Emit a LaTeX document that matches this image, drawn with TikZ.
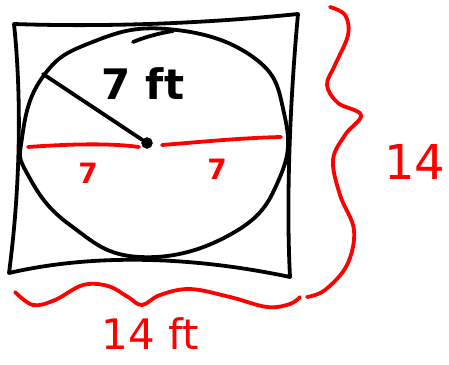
\documentclass[tikz,border=0pt]{standalone}
\usepackage{fontspec}
\setmainfont{DejaVu Sans}
\usetikzlibrary{calc}

\tikzset{
  ink/.style={black, line width=3.8pt, line cap=round, line join=round},
  redink/.style={red, line width=3.8pt, line cap=round, line join=round},
  lbl/.style={inner sep=0pt, font=\bfseries}
}

\begin{document}
\begin{tikzpicture}[x=1pt,y=-1pt]
    \useasboundingbox (0,0) rectangle (449,364);
    % square
    \draw[ink] (14,24) .. controls (100,27) and (200,24) .. (298,14)
        .. controls (290,100) and (286,200) .. (290,277)
        .. controls (200,258) and (100,252) .. (9,273)
        .. controls (20,190) and (22,100) .. (14,24) -- cycle;
    % circle
    \draw[ink] plot[smooth cycle, tension=0.75] coordinates {
        (22,138) (42,78) (90,43) (167,29) (253,57)
        (284,113) (280,177) (233,233)
        (140,257) (70,225) (28,175)};
    \draw[ink] (133,42) .. controls (145,37) and (160,33) .. (173,31);
    % centre and radius
    \node[draw, circle, fill=black, minimum size=11pt, inner sep=0pt] (ctr) at (147,143) {};
    \coordinate (rim) at (43,74);
    \draw[ink] (rim) -- (ctr);
    \node[lbl, font=\fontsize{42}{42}\selectfont\bfseries] (rlab) at (143,84) {7 ft};
    % diameter
    \coordinate (dl) at (28,147);
    \coordinate (dr) at (281,137);
    \draw[redink] (dl) .. controls (70,144) and (110,143) .. ($(ctr)+(-8,4)$);
    \draw[redink] ($(ctr)+(15,2)$) .. controls (200,142) and (240,138) .. (dr);
    \node[lbl, red, font=\fontsize{28}{28}\selectfont\bfseries] (hl) at (88,173) {7};
    \node[lbl, red, font=\fontsize{28}{28}\selectfont\bfseries] (hr) at (217,169) {7};
    % right brace
    \draw[redink] plot[smooth, tension=0.6] coordinates {
        (330,7) (345,15) (348,35) (335,65) (327,85) (338,103) (361,115)
        (345,135) (333,160) (340,195) (354,230) (347,265) (325,290) (307,297)};
    \node[lbl, red, font=\fontsize{48}{48}\selectfont] (side) at (415,162) {14};
    % bottom brace
    \draw[redink] plot[smooth, tension=0.6] coordinates {
        (15,292) (33,305) (55,300) (83,285) (108,286) (128,297) (142,305)
        (160,295) (190,289) (230,297) (267,307) (290,304) (300,297)};
    \node[lbl, red, font=\fontsize{42}{42}\selectfont] (base) at (150,334) {14 ft};
\end{tikzpicture}
\end{document}
